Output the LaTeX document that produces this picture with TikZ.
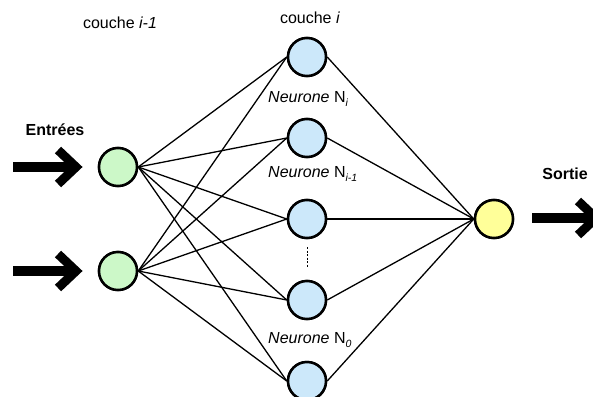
\documentclass[tikz,border=0pt]{standalone}
\usepackage{fontspec}
\setmainfont{Liberation Sans}
\newcommand{\lowsub}[1]{\raisebox{-0.3em}{\fontsize{10.5}{12}\selectfont\itshape #1}}
\begin{document}
\begin{tikzpicture}[x=1pt,y=-1pt,
  neuron/.style={circle,draw=black,line width=2.5pt,minimum size=38pt,inner sep=0pt},
  inneuron/.style={neuron,fill=inputgreen},
  hidneuron/.style={neuron,fill=hiddenblue},
  outneuron/.style={neuron,fill=outputyellow},
  link/.style={line width=1.3pt},
  bigarrow/.style={line width=10pt},
  chevron/.style={line width=9pt,miter limit=10},
  lbl/.style={font=\fontsize{16}{19}\selectfont,inner sep=0pt}]
\definecolor{inputgreen}{HTML}{CCF8C8}
\definecolor{hiddenblue}{HTML}{CCE8FA}
\definecolor{outputyellow}{HTML}{FFFF99}
\useasboundingbox (0,0) rectangle (593,396);
\fill[white] (0,0) rectangle (593,396);
\begin{scope}
\clip (0,0) rectangle (593,396);
% neurons
\node[inneuron] (in1) at (118,167) {};
\node[inneuron] (in2) at (118,271) {};
\node[hidneuron] (h1) at (307,57) {};
\node[hidneuron] (h2) at (307,138) {};
\node[hidneuron] (h3) at (307,219) {};
\node[hidneuron] (h4) at (307,300) {};
\node[hidneuron] (h5) at (307,381) {};
\node[outneuron] (out) at (494,219) {};
% links
\foreach \i in {in1,in2}{
  \foreach \h in {h1,h2,h3,h4,h5}{
    \draw[link] (\i.east) -- (\h.west);
  }
}
\foreach \h in {h1,h2,h3,h4,h5}{
  \draw[link] (\h.east) -- (out.west);
}
% redraw neurons on top
\node[inneuron] at (in1) {};
\node[inneuron] at (in2) {};
\node[hidneuron] at (h1) {};
\node[hidneuron] at (h2) {};
\node[hidneuron] at (h3) {};
\node[hidneuron] at (h4) {};
\node[hidneuron] at (h5) {};
\node[outneuron] at (out) {};
% dots
\coordinate (d1) at (307,247);
\coordinate (d2) at (307,268);
\draw[dashed,line width=0.8pt,dash pattern=on 2pt off 1.5pt] (d1) -- (d2);
% arrows
\coordinate (a1s) at (13,167);
\coordinate (a1e) at (74,167);
\draw[bigarrow] (a1s) -- (a1e);
\draw[chevron] (58,150) -- (76,167) -- (58,184);
\coordinate (a2s) at (13,271);
\coordinate (a2e) at (74,271);
\draw[bigarrow] (a2s) -- (a2e);
\draw[chevron] (58,254) -- (76,271) -- (58,288);
\coordinate (a3s) at (532,218);
\coordinate (a3e) at (594,218);
\draw[bigarrow] (a3s) -- (a3e);
\draw[chevron] (578,201) -- (596,218) -- (578,235);
\end{scope}
% labels
\node[lbl] (c1) at (120,23) {couche \textit{i-1}};
\node[lbl] (c2) at (310,18) {couche \textit{i}};
\node[lbl] (ent) at (55,130) {\textbf{Entrées}};
\node[lbl] (sor) at (565,174) {\textbf{Sortie}};
\node[lbl,anchor=base west] (n1) at (268,102) {\textit{Neurone} N\lowsub{i}};
\node[lbl,anchor=base west] (n2) at (268,177) {\textit{Neurone} N\lowsub{i-1}};
\node[lbl,anchor=base west] (n0) at (268,343) {\textit{Neurone} N\lowsub{0}};
\end{tikzpicture}
\end{document}
